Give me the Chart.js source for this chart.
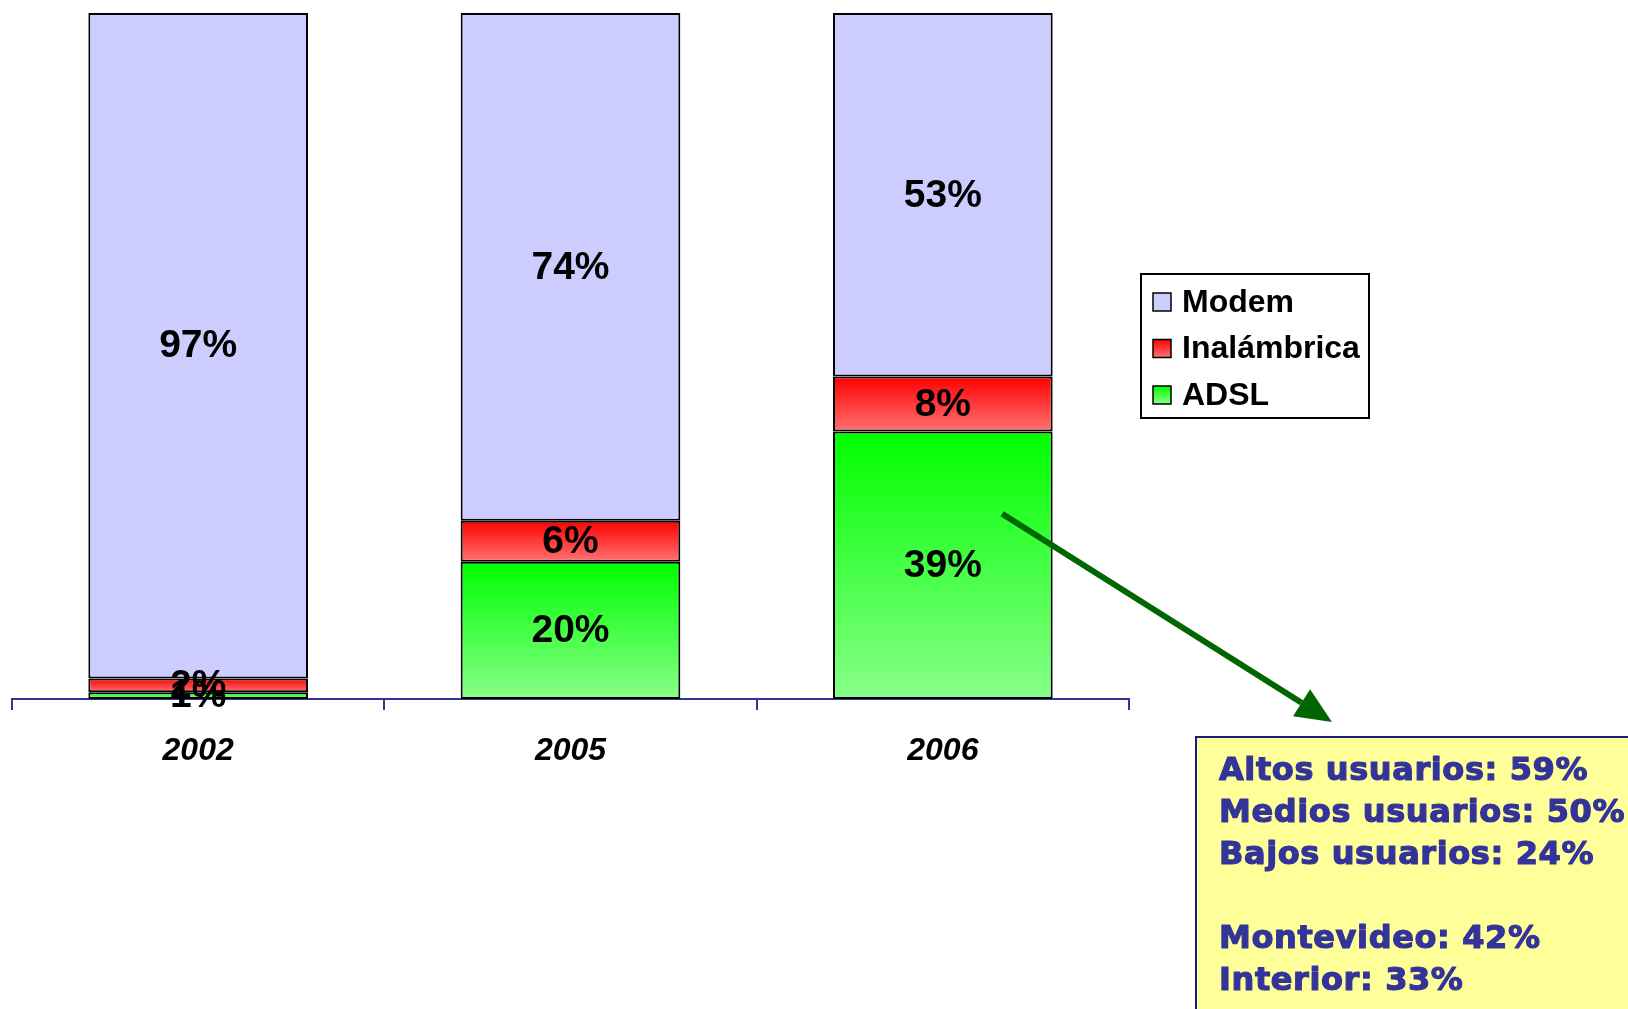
<!DOCTYPE html>
<html lang="es">
<head>
<meta charset="UTF-8">
<title>Tipo de conexión a Internet</title>
<script src="https://cdn.jsdelivr.net/npm/chart.js@4.4.1/dist/chart.umd.min.js"></script>
<style>
  body { margin: 0; background: #fff; }
  #grafico { display: block; }
</style>
</head>
<body>

<canvas id="grafico" width="1628" height="1009"></canvas>

<script>
    // datos por año (porcentaje de hogares)
    var years = ["2002", "2005", "2006"];
    var adsl = [1, 20, 39];
    var inalambrica = [2, 6, 8];
    var modem = [97, 74, 53];
    var notas = [
        "Altos usuarios: 59%",
        "Medios usuarios: 50%",
        "Bajos usuarios: 24%",
        "",
        "Montevideo: 42%",
        "Interior: 33%"
    ];
    //
    var FONT = "'Liberation Sans', Arial, sans-serif";
    var FONT_NOTA = "'DejaVu Sans', Verdana, sans-serif";

    // degradado vertical por segmento
    function degradado(colTop, colBottom) {
        return function(ctx) {
            var chart = ctx.chart;
            if (!chart.chartArea || ctx.type !== 'data') return colTop;
            var y = chart.scales.y;
            var base = 0;
            for (var k = 0; k < ctx.datasetIndex; k++) base += chart.data.datasets[k].data[ctx.dataIndex];
            var v = chart.data.datasets[ctx.datasetIndex].data[ctx.dataIndex];
            var g = chart.ctx.createLinearGradient(0, y.getPixelForValue(base + v), 0, y.getPixelForValue(base));
            g.addColorStop(0, colTop);
            g.addColorStop(1, colBottom);
            return g;
        };
    }

    var colores = {
        "ADSL": ["#00ff00", "#88ff88"],
        "Inalámbrica": ["#ff0000", "#ff7272"],
        "Modem": ["#ccccff", "#ccccff"]
    };

    // etiquetas de valor dentro de cada barra
    var etiquetas = {
        id: 'etiquetas',
        afterDatasetsDraw: function(chart) {
            var c = chart.ctx;
            c.save();
            c.font = "bold 39px " + FONT;
            c.fillStyle = "#000";
            c.textAlign = "center";
            c.textBaseline = "middle";
            chart.data.datasets.forEach(function(ds, di) {
                chart.getDatasetMeta(di).data.forEach(function(el, i) {
                    c.fillText(ds.data[i] + "%", el.x, (el.y + el.base) / 2 + 1);
                });
            });
            c.restore();
        }
    };

    // leyenda en recuadro (Modem arriba)
    var leyenda = {
        id: 'leyenda',
        afterDraw: function(chart) {
            var c = chart.ctx;
            c.save();
            c.fillStyle = "#fff";
            c.fillRect(1141, 274, 228, 144);
            c.strokeStyle = "#000";
            c.lineWidth = 2;
            c.strokeRect(1141, 274, 228, 144);
            var items = chart.data.datasets.slice().reverse();
            items.forEach(function(ds, i) {
                var yc = 302 + i * 46.5;
                var col = colores[ds.label];
                var g = c.createLinearGradient(0, yc - 9, 0, yc + 9);
                g.addColorStop(0, col[0]);
                g.addColorStop(1, col[1]);
                c.fillStyle = g;
                c.fillRect(1153, yc - 9, 18, 18);
                c.lineWidth = 1.5;
                c.strokeStyle = "#000";
                c.strokeRect(1153, yc - 9, 18, 18);
                c.fillStyle = "#000";
                c.font = "bold 32px " + FONT;
                c.textBaseline = "middle";
                c.textAlign = "left";
                c.fillText(ds.label, 1182, yc + 1);
            });
            c.restore();
        }
    };

    // flecha y nota sobre ADSL 2006
    var nota = {
        id: 'nota',
        afterDraw: function(chart) {
            var c = chart.ctx;
            var bar = chart.getDatasetMeta(0).data[2];
            var x0 = bar.x + 0.27 * bar.width;
            var y0 = chart.scales.y.getPixelForValue(27);
            var tx = 1332, ty = 722;
            var dx = tx - x0, dy = ty - y0;
            var len = Math.sqrt(dx * dx + dy * dy);
            var ux = dx / len, uy = dy / len;
            var bx = tx - 36 * ux, by = ty - 36 * uy;
            c.save();
            c.strokeStyle = "#006600";
            c.fillStyle = "#006600";
            c.lineWidth = 6;
            c.beginPath();
            c.moveTo(x0, y0);
            c.lineTo(bx, by);
            c.stroke();
            c.beginPath();
            c.moveTo(tx, ty);
            c.lineTo(bx - 16 * uy, by + 16 * ux);
            c.lineTo(bx + 16 * uy, by - 16 * ux);
            c.closePath();
            c.fill();

            c.fillStyle = "#ffff99";
            c.fillRect(1196, 737, 450, 300);
            c.strokeStyle = "#1a1a80";
            c.lineWidth = 2;
            c.strokeRect(1196, 737, 450, 300);

            c.fillStyle = "#333399";
            c.strokeStyle = "#333399";
            c.lineWidth = 1.2;
            c.lineJoin = "round";
            c.font = "bold 32px " + FONT_NOTA;
            c.letterSpacing = "0.6px";
            c.textAlign = "left";
            c.textBaseline = "alphabetic";
            notas.forEach(function(t, i) {
                if (t) {
                    c.fillText(t, 1219, 780 + i * 42);
                    c.strokeText(t, 1219, 780 + i * 42);
                }
            });
            c.restore();
        }
    };

    var grafico = new Chart("grafico", {
        type: "bar",
        data: {
            labels: years,
            datasets: [
                { label: "ADSL", data: adsl, backgroundColor: degradado("#00ff00", "#88ff88") },
                { label: "Inalámbrica", data: inalambrica, backgroundColor: degradado("#ff0000", "#ff7272") },
                { label: "Modem", data: modem, backgroundColor: "#ccccff" }
            ]
        },
        options: {
            responsive: false,
            animation: false,
            datasets: {
                bar: {
                    borderColor: "#000",
                    borderWidth: 2,
                    borderSkipped: false,
                    categoryPercentage: 1.0,
                    barPercentage: 0.59
                }
            },
            layout: {
                padding: { left: 12, right: 499, top: 13, bottom: 230 }
            },
            scales: {
                x: {
                    stacked: true,
                    afterFit: function(s) { s.height = 80; },
                    grid: {
                        drawOnChartArea: false,
                        color: "#333399",
                        lineWidth: 2,
                        tickLength: 11
                    },
                    border: { display: true, color: "#333399", width: 2 },
                    ticks: {
                        color: "#000",
                        padding: 22,
                        font: { family: FONT, size: 32, weight: "bold", style: "italic" }
                    }
                },
                y: {
                    stacked: true,
                    display: false,
                    min: 0,
                    max: 100
                }
            },
            plugins: {
                legend: { display: false },
                tooltip: { enabled: false }
            }
        },
        plugins: [etiquetas, leyenda, nota]
    });
</script>

</body>
</html>
